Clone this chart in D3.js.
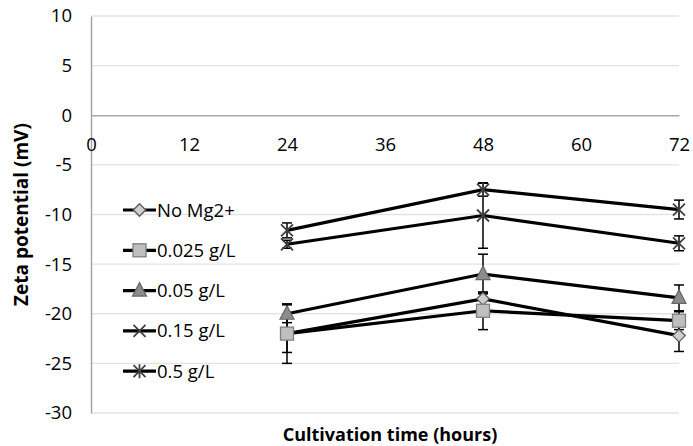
<!DOCTYPE html>
<html>
<head>
<meta charset="utf-8">
<script src="https://cdn.jsdelivr.net/npm/d3@7"></script>
<style>
  body { margin: 0; background: #fff; }
  svg { display: block; font-family: "Open Sans", "Liberation Sans", sans-serif; }
</style>
</head>
<body>
<svg id="chart" width="693" height="446"></svg>
<script>
// Sampling times (hours)
const hours = [24, 48, 72];
const xTicks = [0, 12, 24, 36, 48, 60, 72];
const yTicks = [10, 5, 0, -5, -10, -15, -20, -25, -30];

// Series names and marker types
const seriesNames = ["No Mg2+", "0.025 g/L", "0.05 g/L", "0.15 g/L", "0.5 g/L"];
const markerTypes = ["diamond", "square", "triangle", "cross", "star"];

// Zeta potential means (mV) per series
const noMg = [-22.0, -18.5, -22.2];
const mg0025 = [-22.0, -19.7, -20.7];
const mg005 = [-20.0, -16.0, -18.4];
const mg015 = [-13.0, -10.1, -12.9];
const mg05 = [-11.6, -7.5, -9.5];

// Standard deviations (mV)
const noMgErr = [1.9, 0.6, 1.6];
const mg0025Err = [3.0, 1.9, 0.9];
const mg005Err = [0.9, 2.0, 1.3];
const mg015Err = [0.4, 3.3, 0.75];
const mg05Err = [0.75, 0.65, 0.95];

const means = [noMg, mg0025, mg005, mg015, mg05];
const errs = [noMgErr, mg0025Err, mg005Err, mg015Err, mg05Err];

const svg = d3.select("#chart");
const plot = { left: 91, right: 679, top: 16, bottom: 413 };

const x = d3.scaleLinear().domain([0, 72]).range([plot.left, plot.right]);
const y = d3.scaleLinear().domain([-30, 10]).range([plot.bottom, plot.top]);

// Plain hyphen-minus for negative tick values
const fmt = d => String(d);

// Horizontal gridlines
svg.append("g")
  .selectAll("line")
  .data(yTicks.filter(v => v !== 0))
  .join("line")
  .attr("x1", plot.left).attr("x2", plot.right)
  .attr("y1", d => y(d)).attr("y2", d => y(d))
  .attr("stroke", "#e3e3e3").attr("stroke-width", 1.3);

// Y axis
const yAxis = svg.append("g")
  .attr("transform", `translate(${plot.left},0)`)
  .call(d3.axisLeft(y).tickValues(yTicks).tickSize(0).tickPadding(19).tickFormat(fmt));
yAxis.select(".domain").attr("stroke", "#a6a6a6").attr("stroke-width", 1.5);
yAxis.selectAll("text").attr("font-size", 18.5).attr("fill", "#000")
  .style("font-family", "'Open Sans', sans-serif");

// X axis on the zero line
const xAxis = svg.append("g")
  .attr("transform", `translate(0,${y(0)})`)
  .call(d3.axisBottom(x).tickValues(xTicks).tickSize(0).tickPadding(23).tickFormat(fmt));
xAxis.select(".domain").attr("stroke", "#a6a6a6").attr("stroke-width", 1.5);
xAxis.selectAll("text").attr("font-size", 18.5).attr("fill", "#000")
  .style("font-family", "'Open Sans', sans-serif");

// Axis titles
svg.append("text")
  .attr("transform", `translate(28,${(plot.top + plot.bottom) / 2}) rotate(-90)`)
  .attr("text-anchor", "middle")
  .attr("font-size", 19).attr("font-weight", "bold")
  .text("Zeta potential (mV)");
svg.append("text")
  .attr("x", 390).attr("y", 441)
  .attr("text-anchor", "middle")
  .attr("font-size", 18).attr("font-weight", "bold")
  .text("Cultivation time (hours)");

// Marker drawing
function drawMarker(g, type, cx, cy) {
  if (type === "diamond") {
    g.append("path").attr("d", d3.symbol(d3.symbolDiamond2, 100)())
      .attr("transform", `translate(${cx},${cy})`)
      .attr("fill", "#cfcfcf").attr("stroke", "#595959").attr("stroke-width", 1.3);
  } else if (type === "square") {
    g.append("rect").attr("x", cx - 6.5).attr("y", cy - 6.5).attr("width", 13).attr("height", 13)
      .attr("fill", "#bfbfbf").attr("stroke", "#7f7f7f").attr("stroke-width", 1.3);
  } else if (type === "triangle") {
    g.append("path").attr("d", `M${cx},${cy - 8}L${cx + 7},${cy + 5.5}L${cx - 7},${cy + 5.5}Z`)
      .attr("fill", "#8c8c8c").attr("stroke", "#666").attr("stroke-width", 1.2);
  } else if (type === "cross") {
    g.append("path").attr("d", `M${cx - 6},${cy - 6}L${cx + 6},${cy + 6}M${cx - 6},${cy + 6}L${cx + 6},${cy - 6}`)
      .attr("stroke", "#404040").attr("stroke-width", 1.8).attr("fill", "none");
  } else if (type === "star") {
    g.append("path").attr("d", `M${cx - 6},${cy - 6}L${cx + 6},${cy + 6}M${cx - 6},${cy + 6}L${cx + 6},${cy - 6}M${cx},${cy - 7}L${cx},${cy + 7}`)
      .attr("stroke", "#404040").attr("stroke-width", 1.8).attr("fill", "none");
  }
}

const line = d3.line().x(d => x(d[0])).y(d => y(d[1]));

// Lines
means.forEach((vals, i) => {
  svg.append("path")
    .datum(hours.map((h, j) => [h, vals[j]]))
    .attr("d", line)
    .attr("fill", "none").attr("stroke", "#000").attr("stroke-width", 3.2);
});

// Error bars
means.forEach((vals, i) => {
  const g = svg.append("g");
  hours.forEach((h, j) => {
    const cx = x(h), y1 = y(vals[j] + errs[i][j]), y2 = y(vals[j] - errs[i][j]);
    g.append("line").attr("x1", cx).attr("x2", cx).attr("y1", y1).attr("y2", y2)
      .attr("stroke", "#000").attr("stroke-width", 1.5);
    [y1, y2].forEach(yy => g.append("line")
      .attr("x1", cx - 5).attr("x2", cx + 5).attr("y1", yy).attr("y2", yy)
      .attr("stroke", "#000").attr("stroke-width", 1.5));
  });
});

// Markers
means.forEach((vals, i) => {
  const g = svg.append("g");
  hours.forEach((h, j) => drawMarker(g, markerTypes[i], x(h), y(vals[j])));
});

// Legend
const legend = svg.append("g");
seriesNames.forEach((name, i) => {
  const ly = 210 + i * 40.3;
  legend.append("line").attr("x1", 123).attr("x2", 156).attr("y1", ly).attr("y2", ly)
    .attr("stroke", "#000").attr("stroke-width", 3.2);
  drawMarker(legend, markerTypes[i], 139.5, ly);
  legend.append("text").attr("x", 157).attr("y", ly + 6.5)
    .attr("font-size", 18.5).text(name);
});
</script>
</body>
</html>
